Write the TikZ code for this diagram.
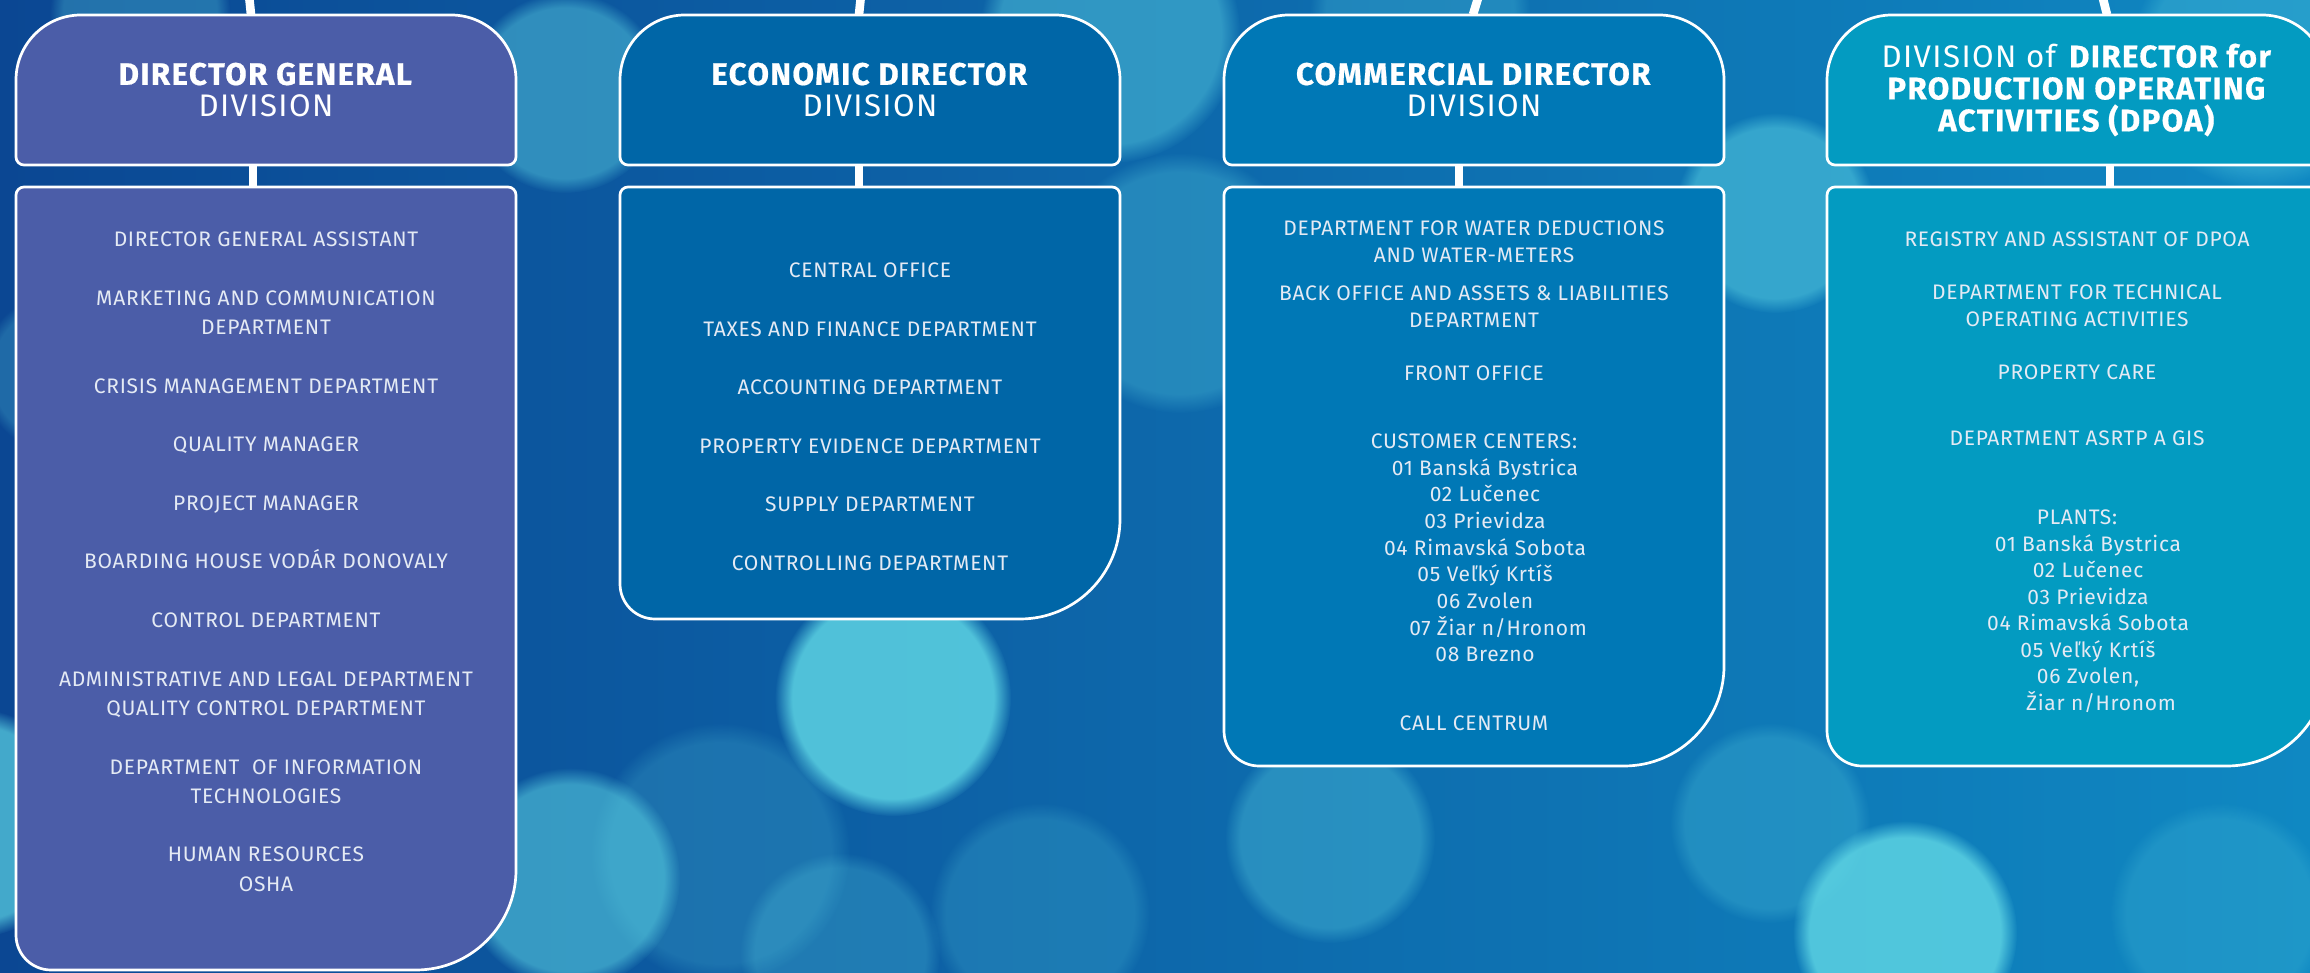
\documentclass[tikz,border=0pt]{standalone}
\usepackage{fontspec}
\setmainfont{Fira Sans}
\newfontfamily\deptfont[LetterSpace=3.5]{Fira Sans}
\newfontfamily\headfont[LetterSpace=4.5, BoldFeatures={FakeBold=0.6}]{Fira Sans}
\usetikzlibrary{positioning,fadings}

\definecolor{bgdeep}{HTML}{0B4793}
\definecolor{bgmid}{HTML}{0A63AB}
\definecolor{bgright}{HTML}{0F88C2}
\definecolor{bokeh}{HTML}{5CD3E3}
\definecolor{dgfill}{HTML}{4B5DA8}
\definecolor{edfill}{HTML}{0066A7}
\definecolor{cdfill}{HTML}{0078B6}
\definecolor{pdfill}{HTML}{039BC1}
\definecolor{deptwhite}{HTML}{E4EAF4}

\tikzset{
  boxline/.style={draw=white, line width=1.35pt},
  wire/.style={draw=white, line width=4.3pt},
  glow/.style={fill=bokeh, fill opacity=#1, path fading=circle with fuzzy edge 15 percent},
  slot/.style={minimum width=250pt, minimum height=#1, inner sep=0pt},
  headtext/.style={text=white, align=center, inner sep=0pt, font=\headfont\fontsize{15.6}{16}\selectfont},
  depttext/.style={text=deptwhite, align=center, inner sep=0pt, anchor=north, font=\deptfont\fontsize{10.5}{#1}\selectfont}
}

\begin{document}
\begin{tikzpicture}[x=0.5pt, y=0.5pt, line join=round]
  \useasboundingbox (0,0) rectangle (2310,973);
  \clip (0,0) rectangle (2310,973);
  \shade[left color=bgdeep, middle color=bgmid, right color=bgright] (0,0) rectangle (2310,973);

  % soft background lights
  \foreach \x/\y/\r/\o in {893/275/118/0.85, 1905/40/112/0.85, -30/150/115/0.7, 570/95/110/0.55,
      565/880/100/0.45, 1180/690/130/0.3, 1110/940/130/0.45, 1775/760/100/0.5, 720/120/130/0.2,
      840/20/100/0.25, 1040/60/110/0.2, 2220/60/110/0.2, 1330/135/105/0.35, 2260/915/130/0.3,
      1770/150/100/0.25, 140/960/90/0.3, 1420/960/110/0.25, 60/600/80/0.25}
    \fill[glow=\o] (\x,\y) circle (\r);

  % places of the division and department boxes
  \foreach \i/\xl/\yb in {1/16/3, 2/620/354, 3/1224/207, 4/1827/207} {
    \pgfmathsetmacro\bc{(786+\yb)/2}
    \pgfmathsetmacro\bh{(786-\yb)/2}
    \node[slot=75pt] (h\i) at (\xl+250,883) {};
    \node[slot=\bh pt] (b\i) at (\xl+250,\bc) {};
  }

  \foreach \i/\tx/\ex/\gx in {1/249/251/253, 2/861/859/859, 3/1479/1473/1459, 4/2102/2107/2110} {
    \coordinate (t\i) at (\tx,978);
    \coordinate (e\i) at (\ex,958);
    \coordinate (g\i) at (\gx,797);
    \draw[wire] (t\i) -- (e\i |- h\i.north);
    \draw[wire] (g\i |- h\i.south) -- (g\i |- b\i.north);
  }

  \foreach \i/\xl/\yb/\fillc in {1/16/3/dgfill, 2/620/354/edfill, 3/1224/207/cdfill, 4/1827/207/pdfill} {
    \pgfmathsetmacro\xr{\xl+500}
    \filldraw[boxline, fill=\fillc] (\xl+8,808) -- (\xr-8,808) arc (-90:0:8) -- (\xr,893)
      arc (0:90:65) -- (\xl+65,958) arc (90:180:65) -- (\xl,816) arc (180:270:8) -- cycle;
    \filldraw[boxline, fill=\fillc] (\xl+35,\yb) -- (\xr-100,\yb) arc (-90:0:100) -- (\xr,778)
      arc (0:90:8) -- (\xl+8,786) arc (90:180:8) -- (\xl,\yb+35) arc (180:270:35) -- cycle;
  }

  \node[headtext] (dghead) at (h1) {\textbf{DIRECTOR GENERAL}\\DIVISION};
  \node[headtext] (edhead) at (h2) {\textbf{ECONOMIC DIRECTOR}\\DIVISION};
  \node[headtext] (cdhead) at (h3) {\textbf{COMMERCIAL DIRECTOR}\\DIVISION};
  \node[headtext] (pdhead) at (h4) {DIVISION of \textbf{DIRECTOR for}\\\textbf{PRODUCTION OPERATING}\\\textbf{ACTIVITIES (DPOA)}};

  \node[depttext=14.65pt] (dglist) at (266,741.5) {DIRECTOR GENERAL ASSISTANT\\[14.65pt]
    MARKETING AND COMMUNICATION\\DEPARTMENT\\[14.65pt]
    CRISIS MANAGEMENT DEPARTMENT\\[14.65pt]
    QUALITY MANAGER\\[14.65pt]
    PROJECT MANAGER\\[14.65pt]
    BOARDING HOUSE VODÁR DONOVALY\\[14.65pt]
    CONTROL DEPARTMENT\\[14.65pt]
    ADMINISTRATIVE AND LEGAL DEPARTMENT\\QUALITY CONTROL DEPARTMENT\\[14.65pt]
    DEPARTMENT \ OF INFORMATION\\TECHNOLOGIES\\[14.65pt]
    HUMAN RESOURCES\\OSHA};

  \node[depttext=14.65pt] (edlist) at (870,710.6) {CENTRAL OFFICE\\[14.65pt]
    TAXES AND FINANCE DEPARTMENT\\[14.65pt]
    ACCOUNTING DEPARTMENT\\[14.65pt]
    PROPERTY EVIDENCE DEPARTMENT\\[14.65pt]
    SUPPLY DEPARTMENT\\[14.65pt]
    CONTROLLING DEPARTMENT};

  \node[depttext=13.35pt] (cdlist) at (1474,752.2) {DEPARTMENT FOR WATER DEDUCTIONS\\AND WATER-METERS\\[5.65pt]
    BACK OFFICE AND ASSETS \& LIABILITIES\\DEPARTMENT\\[13.15pt]
    FRONT OFFICE\\[20.65pt]
    CUSTOMER CENTERS:\\
    \hspace*{11pt}01 Banská Bystrica\\
    \hspace*{11pt}02 Lučenec\\
    \hspace*{11pt}03 Prievidza\\
    \hspace*{11pt}04 Rimavská Sobota\\
    \hspace*{11pt}05 Veľký Krtíš\\
    \hspace*{11pt}06 Zvolen\\
    \hspace*{24pt}07 Žiar n/Hronom\\
    \hspace*{11pt}08 Brezno\\[21.15pt]
    CALL CENTRUM};

  \node[depttext=13.25pt] (pdlist) at (2077,741.5) {REGISTRY AND ASSISTANT OF DPOA\\[13.25pt]
    DEPARTMENT FOR TECHNICAL\\OPERATING ACTIVITIES\\[13.25pt]
    PROPERTY CARE\\[19.9pt]
    DEPARTMENT ASRTP A GIS\\[26.5pt]
    PLANTS:\\
    \hspace*{11pt}01 Banská Bystrica\\
    \hspace*{11pt}02 Lučenec\\
    \hspace*{11pt}03 Prievidza\\
    \hspace*{11pt}04 Rimavská Sobota\\
    \hspace*{11pt}05 Veľký Krtíš\\
    \hspace*{11pt}06 Zvolen,\\
    \hspace*{24pt}Žiar n/Hronom};
\end{tikzpicture}
\end{document}
